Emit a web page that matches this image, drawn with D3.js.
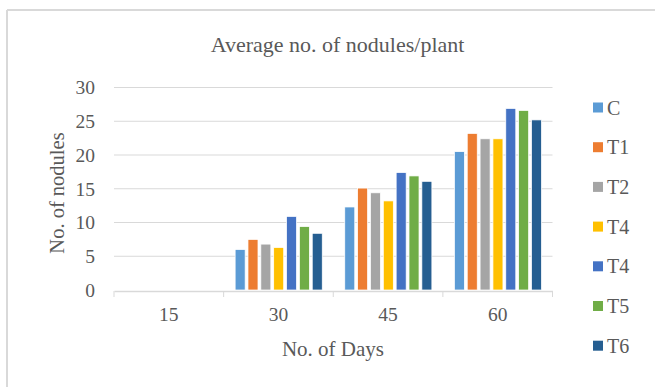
<!DOCTYPE html>
<html>
<head>
<meta charset="utf-8">
<script src="https://cdn.jsdelivr.net/npm/d3@7"></script>
<style>
  body { margin: 0; background: #fff; }
  text { font-family: "Liberation Serif", "Times New Roman", serif; fill: #595959; }
</style>
</head>
<body>
<div id="chart"></div>
<script>
// data
let days = ["15", "30", "45", "60"];
let seriesNames = ["C", "T1", "T2", "T4", "T4", "T5", "T6"];
let seriesColors = ["#5b9bd5", "#ed7d31", "#a5a5a5", "#ffc000", "#4472c4", "#70ad47", "#255e91"];
let valuesC  = [0, 6.0, 12.3, 20.5];
let valuesT1 = [0, 7.5, 15.1, 23.2];
let valuesT2 = [0, 6.8, 14.4, 22.4];
let valuesT4a = [0, 6.3, 13.2, 22.4];
let valuesT4b = [0, 10.9, 17.4, 26.9];
let valuesT5 = [0, 9.4, 16.9, 26.6];
let valuesT6 = [0, 8.4, 16.1, 25.2];
let yTicks = [0, 5, 10, 15, 20, 25, 30];

let allValues = [valuesC, valuesT1, valuesT2, valuesT4a, valuesT4b, valuesT5, valuesT6];

let width = 655, height = 387;
let plot = { left: 114, right: 552.5, top: 87.5, bottom: 290 };

let svg = d3.select("#chart").append("svg")
  .attr("width", width)
  .attr("height", height);

// chart frame (only top and left edges show in the crop)
svg.append("line").attr("x1", 7).attr("x2", width).attr("y1", 10).attr("y2", 10)
  .attr("stroke", "#d9d9d9").attr("stroke-width", 2);
svg.append("line").attr("x1", 7).attr("x2", 7).attr("y1", 10).attr("y2", height)
  .attr("stroke", "#d9d9d9").attr("stroke-width", 2);

// scales
let x0 = d3.scaleBand().domain(days).range([plot.left, plot.right]);
let x1 = d3.scaleBand().domain(d3.range(seriesNames.length))
  .range([11.5, x0.bandwidth() - 11]).paddingInner(0.22);
let y = d3.scaleLinear().domain([0, 30]).range([plot.bottom, plot.top]);

// gridlines
svg.append("g").selectAll("line").data(yTicks.filter(d => d > 0)).enter().append("line")
  .attr("x1", plot.left).attr("x2", plot.right)
  .attr("y1", d => y(d)).attr("y2", d => y(d))
  .attr("stroke", "#d9d9d9").attr("stroke-width", 1);

// y tick labels
svg.append("g").selectAll("text").data(yTicks).enter().append("text")
  .attr("x", 95).attr("y", d => y(d))
  .attr("dy", "0.35em")
  .attr("text-anchor", "end")
  .style("font-size", "19.5px")
  .text(d => d);

// bars
let groups = svg.append("g").selectAll("g").data(days).enter().append("g")
  .attr("transform", d => `translate(${x0(d)},0)`);
groups.selectAll("rect")
  .data((d, i) => allValues.map((vals, s) => ({ s: s, v: vals[i] })))
  .enter().append("rect")
  .attr("x", d => x1(d.s))
  .attr("width", x1.bandwidth())
  .attr("y", d => y(d.v))
  .attr("height", d => y(0) - y(d.v))
  .attr("fill", d => seriesColors[d.s])
  .attr("stroke", "#fff")
  .attr("stroke-width", d => d.v > 0 ? 0.75 : 0);

// x axis
let xAxis = svg.append("g")
  .attr("transform", `translate(0,${plot.bottom + 1})`)
  .call(d3.axisBottom(x0).tickSize(0).tickSizeOuter(0));
xAxis.select(".domain").attr("stroke", "#d9d9d9").attr("stroke-width", 1.5);
xAxis.selectAll("text").style("font-size", "19.5px").attr("fill", "#595959")
  .attr("font-family", "Liberation Serif").attr("dy", "1.4em");
// tick marks between categories
svg.append("g").selectAll("line").data(days.concat(["end"])).enter().append("line")
  .attr("x1", (d, i) => i < days.length ? x0(d) : plot.right)
  .attr("x2", (d, i) => i < days.length ? x0(d) : plot.right)
  .attr("y1", plot.bottom + 1).attr("y2", plot.bottom + 7)
  .attr("stroke", "#d9d9d9").attr("stroke-width", 1);

// titles
svg.append("text").attr("x", 337.5).attr("y", 51.5)
  .attr("text-anchor", "middle").style("font-size", "22px")
  .text("Average no. of nodules/plant");
svg.append("text").attr("x", 333).attr("y", 356)
  .attr("text-anchor", "middle").style("font-size", "21px")
  .text("No. of Days");
svg.append("text")
  .attr("transform", "translate(64,193) rotate(-90)")
  .attr("text-anchor", "middle").style("font-size", "20.5px")
  .text("No. of nodules");

// legend
let legend = svg.append("g").selectAll("g").data(seriesNames).enter().append("g")
  .attr("transform", (d, i) => `translate(593,${107.5 + i * 39.7})`);
legend.append("rect").attr("x", 0).attr("y", -5).attr("width", 10).attr("height", 10)
  .attr("fill", (d, i) => seriesColors[i]);
legend.append("text").attr("x", 14).attr("y", 0).attr("dy", "0.35em")
  .style("font-size", "20px")
  .text(d => d);
</script>
</body>
</html>
